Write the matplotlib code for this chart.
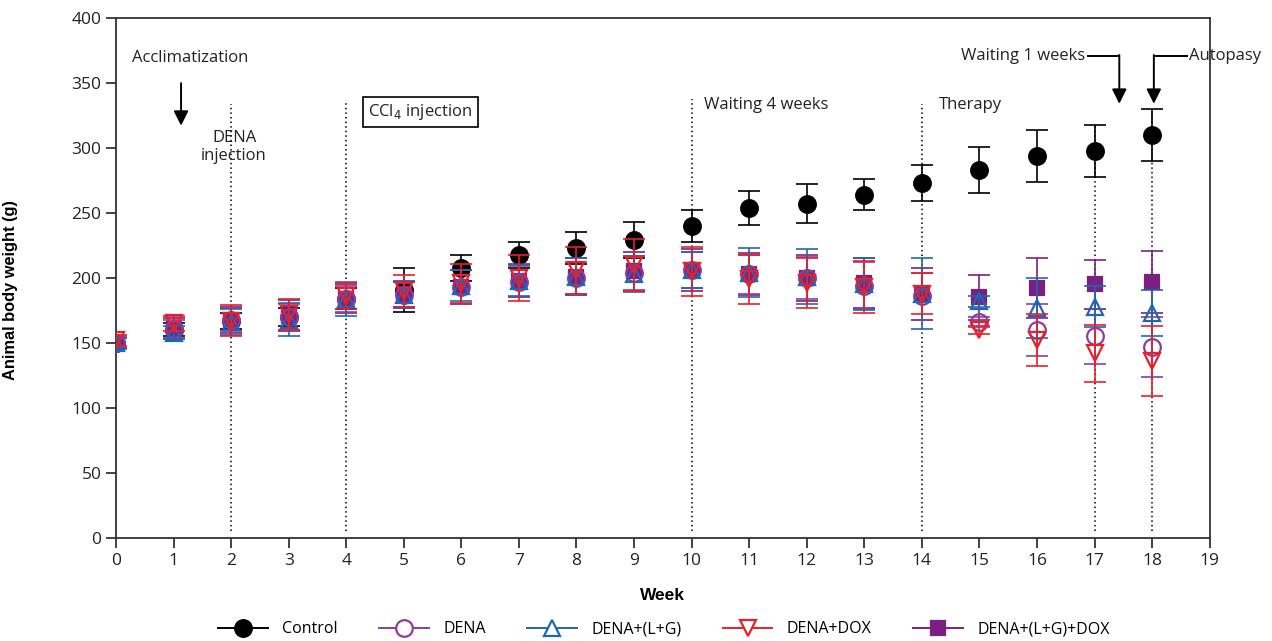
import matplotlib
matplotlib.use("Agg")
import matplotlib.pyplot as plt
from matplotlib.lines import Line2D
import numpy as np

plt.rcParams["font.family"] = ["Open Sans", "DejaVu Sans"]

weeks = np.arange(19)

control = [150, 160, 167, 170, 184, 191, 208, 218, 223, 229, 240, 254, 257, 264, 273, 283, 294, 298, 310]
control_sd = [4, 5, 6, 7, 8, 17, 10, 10, 12, 14, 12, 13, 15, 12, 14, 18, 20, 20, 20]

dena = [150, 161, 168, 170, 184, 187, 193, 197, 200, 204, 206, 203, 200, 194, 186, 166, 160, 155, 147]
dena_sd = [4, 7, 9, 10, 10, 10, 13, 12, 12, 13, 14, 15, 16, 18, 18, 4, 20, 21, 23]

dena_lg = [150, 158, 166, 168, 184, 187, 194, 198, 201, 203, 206, 204, 201, 195, 188, 182, 177, 178, 173]
dena_lg_sd = [5, 5, 10, 13, 13, 10, 12, 12, 14, 14, 14, 19, 21, 20, 27, 4, 23, 16, 18]

dena_dox = [152, 165, 167, 172, 186, 190, 196, 200, 206, 210, 205, 199, 196, 193, 188, 160, 152, 142, 136]
dena_dox_sd = [4, 6, 12, 12, 10, 12, 15, 18, 18, 20, 19, 19, 19, 20, 16, 3, 20, 22, 27]

dena_lg_dox = [150, 161, 168, 171, 184, 188, 193, 198, 201, 205, 206, 203, 200, 196, 188, 185, 192, 195, 197]
dena_lg_dox_sd = [4, 8, 10, 12, 11, 10, 13, 13, 14, 15, 16, 16, 18, 19, 20, 17, 23, 19, 24]

# (label, mean, sd, color, marker, filled, size, zorder)
groups = [
    ("Control", control, control_sd, "black", "o", True, 12, 3),
    ("DENA", dena, dena_sd, "#8e3c9e", "o", False, 12, 5),
    ("DENA+(L+G)", dena_lg, dena_lg_sd, "#1f67b0", "^", False, 11, 6),
    ("DENA+DOX", dena_dox, dena_dox_sd, "#e8202a", "v", False, 11, 7),
    ("DENA+(L+G)+DOX", dena_lg_dox, dena_lg_dox_sd, "#7b1f82", "s", True, 10.5, 4),
]

fig = plt.figure(figsize=(12.72, 6.41), dpi=100)
ax = fig.add_axes([0.0912, 0.1607, 0.8598, 0.8113])

handles = []
for label, mean, sd, color, marker, filled, ms, z in groups:
    ax.errorbar(weeks, mean, yerr=sd, fmt="none", ecolor=color, elinewidth=1.4,
                capsize=8, capthick=1.4, alpha=0.85, zorder=z)
    ax.plot(weeks, mean, linestyle="none", marker=marker, markersize=ms,
            markerfacecolor=color if filled else "none", markeredgecolor=color,
            markeredgewidth=1.6, zorder=z)
    handles.append(Line2D([], [], color=color, lw=1.4, marker=marker, markersize=ms,
                          markerfacecolor=color if filled else "white",
                          markeredgecolor=color, markeredgewidth=1.6, label=label))

# phase separators
vlines_x = [2, 4, 10, 14, 17, 18]
vlines_top = [334, 337, 338, 334, 318, 329]
ax.vlines(vlines_x, 5, vlines_top, colors="black", linestyles=(0, (1, 2)), lw=1.1, zorder=2)

ax.set_xlim(0, 19)
ax.set_ylim(0, 400)
ax.set_xticks(range(0, 20))
ax.set_yticks(range(0, 401, 50))
ax.tick_params(direction="out", length=7, width=1.2, labelsize=12.5, colors="#222222")
for s in ax.spines.values():
    s.set_linewidth(1.3)
    s.set_color("#333333")

ax.set_xlabel("Week", fontsize=12.5, fontweight="bold", family="Liberation Sans", labelpad=14)
ax.set_ylabel("Animal body weight (g)", fontsize=11.8, fontweight="bold",
              family="Liberation Sans")
ax.yaxis.set_label_coords(-0.0896, 0.477)

# annotations
tfs = 12
ax.text(0.28, 369, "Acclimatization", fontsize=tfs, va="center", ha="left", color="#222222")
ax.annotate("", xy=(1.13, 315), xytext=(1.13, 352),
            arrowprops=dict(arrowstyle="-|>", mutation_scale=22, color="black", lw=1.4))
ax.text(2.05, 301, "DENA\ninjection", fontsize=tfs, ha="center", va="center",
        color="#222222", linespacing=1.15)
ax.text(4.38, 328, "CCl$_4$ injection", fontsize=tfs, ha="left", va="center", color="#222222",
        bbox=dict(boxstyle="square,pad=0.3", fc="white", ec="black", lw=1.2))
ax.text(10.22, 333, "Waiting 4 weeks", fontsize=tfs, ha="left", va="center", color="#222222")
ax.text(14.3, 333, "Therapy", fontsize=tfs, ha="left", va="center", color="#222222")

ax.text(16.83, 371, "Waiting 1 weeks", fontsize=tfs, ha="right", va="center", color="#222222")
ax.plot([16.88, 17.43], [371, 371], color="black", lw=1.4, clip_on=False)
ax.annotate("", xy=(17.43, 334), xytext=(17.43, 371.5),
            arrowprops=dict(arrowstyle="-|>", mutation_scale=22, color="black", lw=1.4,
                            shrinkA=0, shrinkB=0))
ax.text(18.64, 371, "Autopasy", fontsize=tfs, ha="left", va="center", color="#222222")
ax.plot([18.03, 18.6], [371, 371], color="black", lw=1.4, clip_on=False)
ax.annotate("", xy=(18.03, 334), xytext=(18.03, 371.5),
            arrowprops=dict(arrowstyle="-|>", mutation_scale=22, color="black", lw=1.4,
                            shrinkA=0, shrinkB=0))

fig.legend(handles=handles, loc="center", bbox_to_anchor=(0.522, 0.018), ncol=5,
           frameon=False, fontsize=11.5, handlelength=3.1, columnspacing=2.6,
           handletextpad=0.9)

fig.savefig("out.png", dpi=100)
